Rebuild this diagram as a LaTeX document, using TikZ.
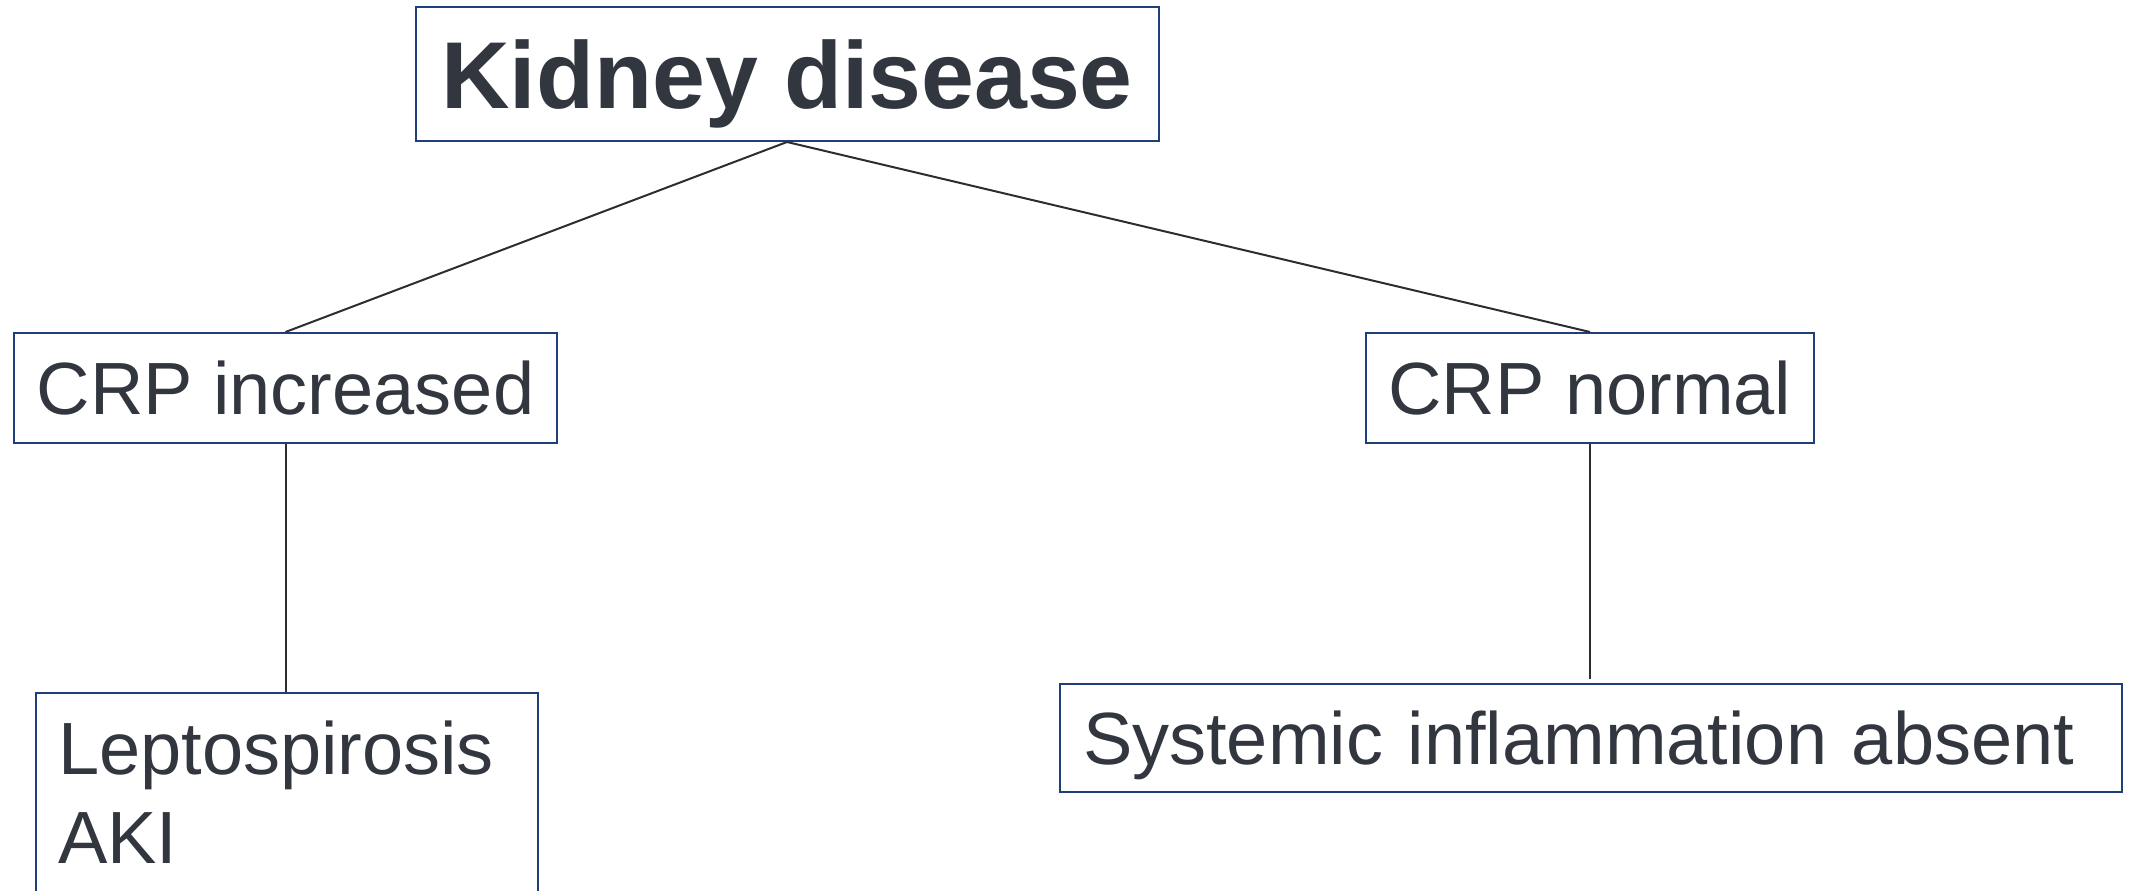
\documentclass[tikz,border=0pt]{standalone}
\usepackage{fontspec}
\setmainfont{Liberation Sans}
\usepackage{tikz}
\usetikzlibrary{positioning}
\definecolor{ddblue}{RGB}{30,63,122}
\definecolor{ddtext}{RGB}{50,54,62}
\definecolor{ddline}{RGB}{45,45,48}
\tikzstyle{rootbox} = [rectangle, draw=ddblue, line width=2pt, text=ddtext, font=\fontsize{95}{114}\selectfont\bfseries, text height=68pt, text depth=0pt, minimum width=743pt, minimum height=134pt]
\tikzstyle{crpbox} = [rectangle, draw=ddblue, line width=2pt, text=ddtext, font=\fontsize{74}{89}\selectfont, text height=53pt, text depth=0pt, minimum height=110pt]
\tikzstyle{dxbox} = [rectangle, draw=ddblue, line width=2pt, text=ddtext, font=\fontsize{74}{89}\selectfont, align=left]
\tikzstyle{link} = [line width=2pt, color=ddline]

\begin{document}
\begin{tikzpicture}[x=1pt,y=-1pt]
\useasboundingbox (0,0) rectangle (2131,891);
% top of the tree
\node[rootbox] (kidney) at (787,74) {Kidney disease};
% CRP level
\node[crpbox, minimum width=543pt] (crpup) at (285.5,388) {CRP increased};
\node[crpbox, minimum width=448pt] (crpnorm) at (1590,388) {CRP normal};
% conclusions
\node[dxbox, anchor=north west, text width=458pt, inner xsep=22pt, inner ysep=28pt, text depth=140pt] (lepto) at (35,692) {Leptospirosis\\AKI};
\node[dxbox, anchor=west, text width=1016pt, inner xsep=23pt, text height=53pt, text depth=0pt, minimum height=108pt] (sysabs) at (1059,738) {Systemic inflammation absent};

\draw[link] (kidney.south) -- (crpup.north);
\draw[link] (kidney.south) -- (crpnorm.north);
\draw[link] (crpup.south) -- (lepto.north -| crpup.south);
\draw[link, shorten >=4pt] (crpnorm.south) -- (sysabs.north -| crpnorm.south);
\end{tikzpicture}
\end{document}
